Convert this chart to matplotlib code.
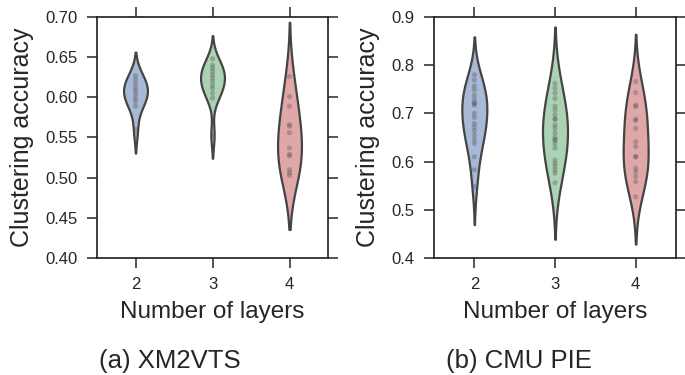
import numpy as np
import pandas as pd
import matplotlib
matplotlib.use("Agg")
import matplotlib.pyplot as plt
import seaborn as sns

# ---- data ----
layers = ["2", "3", "4"]
xm2vts_2 = [0.627, 0.622, 0.617, 0.612, 0.608, 0.604, 0.599, 0.595, 0.589, 0.560]
xm2vts_3 = [0.648, 0.640, 0.636, 0.632, 0.628, 0.624, 0.620, 0.615, 0.611, 0.605, 0.599, 0.553]
xm2vts_4 = [0.626, 0.601, 0.589, 0.566, 0.564, 0.556, 0.537, 0.529, 0.527, 0.510, 0.506, 0.503]
cmu_2 = [0.780, 0.769, 0.757, 0.749, 0.738, 0.729, 0.721, 0.721, 0.717, 0.700, 0.692,
         0.679, 0.672, 0.664, 0.655, 0.646, 0.638, 0.610, 0.583, 0.548]
cmu_3 = [0.762, 0.752, 0.742, 0.731, 0.715, 0.707, 0.697, 0.688, 0.688, 0.676, 0.669,
         0.659, 0.650, 0.645, 0.645, 0.637, 0.628, 0.603, 0.596, 0.590, 0.583, 0.576, 0.556]
cmu_4 = [0.766, 0.743, 0.717, 0.714, 0.688, 0.685, 0.669, 0.641, 0.631, 0.610, 0.610,
         0.586, 0.579, 0.569, 0.558, 0.527]
xm_yticks = [0.40, 0.45, 0.50, 0.55, 0.60, 0.65, 0.70]
cmu_yticks = [0.4, 0.5, 0.6, 0.7, 0.8, 0.9]
colors = ["#a8b8d7", "#aad2b3", "#e0a7a9"]
captions = ["(a) XM2VTS", "(b) CMU PIE"]

# per-violin kernel bandwidth adjustment (style)
xm_bw = [1.2, 0.95, 1.4]
cmu_bw = [1.15, 1.85, 1.2]

sns.set_style("ticks")
plt.rcParams['font.family'] = ['Liberation Sans', 'DejaVu Sans']
plt.rcParams['text.color'] = '.15'
plt.rcParams['axes.labelcolor'] = '.15'
plt.rcParams['xtick.color'] = '.15'
plt.rcParams['ytick.color'] = '.15'

fig = plt.figure(figsize=(6.85, 3.75), dpi=100)
ax1 = fig.add_axes([97 / 685, 117 / 375, 231 / 685, 241 / 375])
ax2 = fig.add_axes([434 / 685, 117 / 375, 242 / 685, 241 / 375])

specs = [
    (ax1, [xm2vts_2, xm2vts_3, xm2vts_4], xm_bw, xm_yticks, (0.40, 0.70), "%.2f"),
    (ax2, [cmu_2, cmu_3, cmu_4], cmu_bw, cmu_yticks, (0.4, 0.9), "%.1f"),
]

for ax, groups, bws, yt, ylim, fmt in specs:
    for lab, vals, bw in zip(layers, groups, bws):
        df = pd.DataFrame({"layers": [lab] * len(vals), "acc": vals})
        sns.violinplot(data=df, x="layers", y="acc", hue="layers", order=layers,
                       hue_order=layers, palette=colors, saturation=1, legend=False,
                       inner="point", density_norm="width", width=0.31, cut=2,
                       bw_adjust=bw, linewidth=1.6, linecolor="#444444",
                       inner_kws={"s": 14, "color": "#555555", "alpha": 0.35,
                                  "edgecolor": "none"},
                       ax=ax)
    ax.set_xlim(-0.5, 2.5)
    ax.set_ylim(*ylim)
    ax.set_yticks(yt)
    ax.set_yticklabels([fmt % v for v in yt])
    ax.set_xticks(range(len(layers)))
    ax.set_xticklabels(layers)
    ax.tick_params(axis="both", which="both", direction="out", length=7,
                   width=1.1, pad=7, labelsize=12, top=True, right=True)
    for s in ax.spines.values():
        s.set_visible(True)
        s.set_linewidth(1.25)
        s.set_color(".15")
    ax.set_xlabel("Number of layers", fontsize=17.5, labelpad=6)
    ax.set_ylabel("Clustering accuracy", fontsize=18, labelpad=8)

fig.text(170 / 685, 1 - 368 / 375, captions[0], fontsize=18.5, ha="center", va="baseline")
fig.text(519 / 685, 1 - 368 / 375, captions[1], fontsize=18.5, ha="center", va="baseline")

fig.savefig("out.png", dpi=100)
